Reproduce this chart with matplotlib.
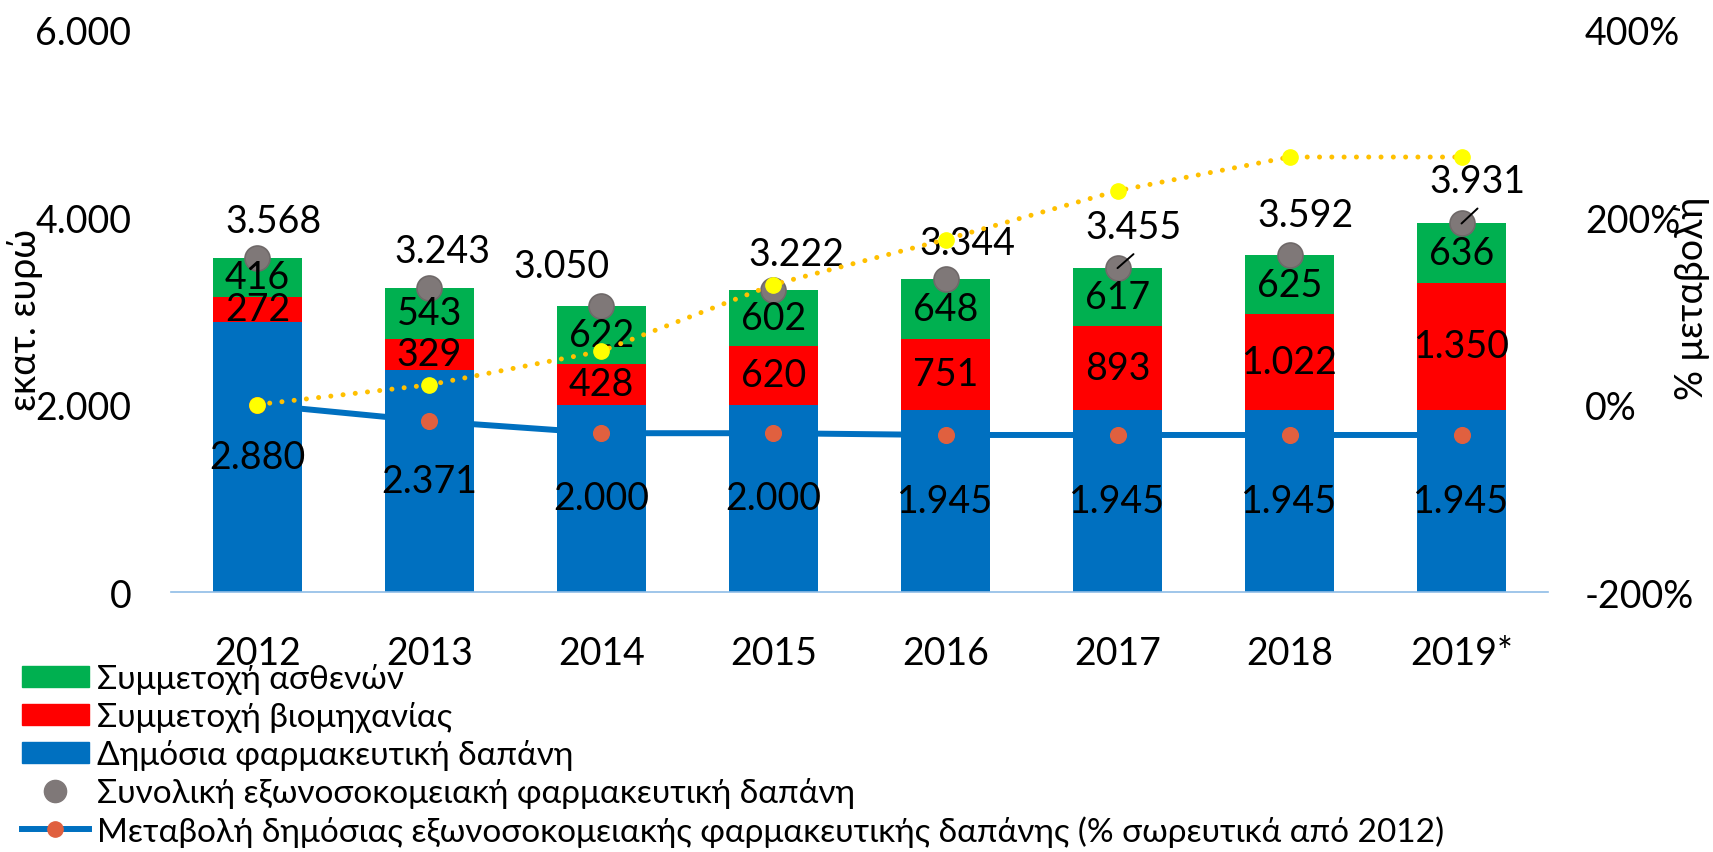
"""Εξωνοσοκομειακή φαρμακευτική δαπάνη 2012-2019: stacked bars + % change lines."""

import matplotlib

matplotlib.use("Agg")
import matplotlib.pyplot as plt  # noqa: E402
from matplotlib.lines import Line2D  # noqa: E402
from matplotlib.patches import Patch  # noqa: E402
from matplotlib.ticker import FuncFormatter  # noqa: E402

plt.rcParams["font.family"] = ["Lato", "DejaVu Sans"]

YEARS = ["2012", "2013", "2014", "2015", "2016", "2017", "2018", "2019*"]
PUBLIC = [2880, 2371, 2000, 2000, 1945, 1945, 1945, 1945]
INDUSTRY = [272, 329, 428, 620, 751, 893, 1022, 1350]
PATIENTS = [416, 543, 622, 602, 648, 617, 625, 636]
TOTAL = [3568, 3243, 3050, 3222, 3344, 3455, 3592, 3931]
PUBLIC_CHANGE = [0.0, -17.7, -30.6, -30.6, -32.5, -32.5, -32.5, -32.5]
INDUSTRY_CHANGE = [0.0, 21.0, 57.0, 128.0, 176.0, 228.0, 264.0, 264.0]

LEGEND_LABELS = [
    "Συμμετοχή ασθενών",
    "Συμμετοχή βιομηχανίας",
    "Δημόσια φαρμακευτική δαπάνη",
    "Συνολική εξωνοσοκομειακή φαρμακευτική δαπάνη",
    "Μεταβολή δημόσιας εξωνοσοκομειακής φαρμακευτικής δαπάνης (% σωρευτικά από 2012)",
]

# label offsets (pixels) of the total labels relative to the grey dot
TOTAL_DX = [16, 13, -40, 23, 22, 16, 16, 16]
TOTAL_DY = [37, 37, 40, 36, 36, 41, 40, 42]
LEADER = [False, False, False, False, False, True, False, True]

GREEN = "#00B050"
RED = "#FF0000"
BLUE = "#0070C0"
GREY = "#7F7878"
ORANGE = "#E0603F"
FS = 27


def fmt(v):
    return f"{v:,}".replace(",", ".")


fig = plt.figure(figsize=(17.13, 8.53), dpi=100)
ax = fig.add_axes([0.1001, 0.3048, 0.8033, 0.6594])
x = list(range(len(YEARS)))
w = 0.52

ax.bar(x, PUBLIC, w, color=BLUE, zorder=2)
ax.bar(x, INDUSTRY, w, bottom=PUBLIC, color=RED, zorder=2)
bottom2 = [p + i for p, i in zip(PUBLIC, INDUSTRY)]
ax.bar(x, PATIENTS, w, bottom=bottom2, color=GREEN, zorder=2)

for xi, p, i, s, b2 in zip(x, PUBLIC, INDUSTRY, PATIENTS, bottom2):
    ax.text(xi, p / 2, fmt(p), ha="center", va="center", fontsize=FS, zorder=4)
    ax.text(xi, p + i / 2, fmt(i), ha="center", va="center", fontsize=FS, zorder=4)
    ax.text(xi, b2 + s / 2, fmt(s), ha="center", va="center", fontsize=FS, zorder=4)

ax.plot(x, TOTAL, "o", ms=18, color=GREY, mec="#6F6969", mew=1.2, zorder=3)
for xi, t, dx, dy, lead in zip(x, TOTAL, TOTAL_DX, TOTAL_DY, LEADER):
    ax.annotate(fmt(t), (xi, t), xytext=(dx, dy), textcoords="offset pixels",
                ha="center", va="center", fontsize=FS, zorder=5)
    if lead:
        ax.annotate("", (xi, t), xytext=(dx, dy - 27), textcoords="offset pixels",
                    arrowprops=dict(arrowstyle="-", color="black", lw=1.4,
                                    shrinkA=0, shrinkB=0), zorder=5)

ax.set_xlim(-0.5, len(YEARS) - 0.5)
ax.set_ylim(0, 6000)
ax.set_yticks([0, 2000, 4000, 6000])
ax.yaxis.set_major_formatter(FuncFormatter(lambda v, _: fmt(int(v))))
ax.set_xticks(x)
ax.set_xticklabels(YEARS)
ax.tick_params(axis="x", length=0, pad=31, labelsize=FS)
ax.tick_params(axis="y", length=0, pad=29, labelsize=FS)
for side in ("top", "right", "left"):
    ax.spines[side].set_visible(False)
ax.spines["bottom"].set_color("#8FBCE6")
ax.spines["bottom"].set_linewidth(1.2)

ax2 = ax.twinx()
ax2.set_ylim(-200, 400)
ax2.set_yticks([-200, 0, 200, 400])
ax2.yaxis.set_major_formatter(FuncFormatter(lambda v, _: f"{int(v)}%"))
ax2.tick_params(axis="y", length=0, pad=27, labelsize=FS)
for side in ("top", "right", "left", "bottom"):
    ax2.spines[side].set_visible(False)

ax2.plot(x, PUBLIC_CHANGE, color=BLUE, lw=4.3, zorder=2)
ax2.plot(x, PUBLIC_CHANGE, "o", ms=11.3, color=ORANGE, zorder=3)
ax2.plot(x, INDUSTRY_CHANGE, color="#FFC000", lw=3.6, linestyle=(0, (0.01, 2.45)),
         dash_capstyle="round", zorder=4)
ax2.plot(x, INDUSTRY_CHANGE, "o", ms=11, color="#FFFF00", zorder=5)

fig.text(25 / 1713, 1 - 320 / 853, "εκατ. ευρώ", rotation=90, ha="center", va="center",
         fontsize=FS)
fig.text(1692 / 1713, 1 - 298 / 853, "% μεταβολή", rotation=90, ha="center", va="center",
         fontsize=FS)

handles = [
    Patch(color=GREEN),
    Patch(color=RED),
    Patch(color=BLUE),
    Line2D([], [], ls="none", marker="o", ms=16, color=GREY),
    Line2D([], [], color=BLUE, lw=4.3, marker="o", ms=11, mfc=ORANGE, mec=ORANGE),
]
fig.legend(handles, LEGEND_LABELS, loc="upper left", bbox_to_anchor=(22 / 1713, 1 - 664 / 853),
           frameon=False, fontsize=24, borderpad=0, borderaxespad=0, handlelength=2.0,
           handleheight=0.6, handletextpad=0.24, labelspacing=0.21)

fig.savefig("out.png", dpi=100)
